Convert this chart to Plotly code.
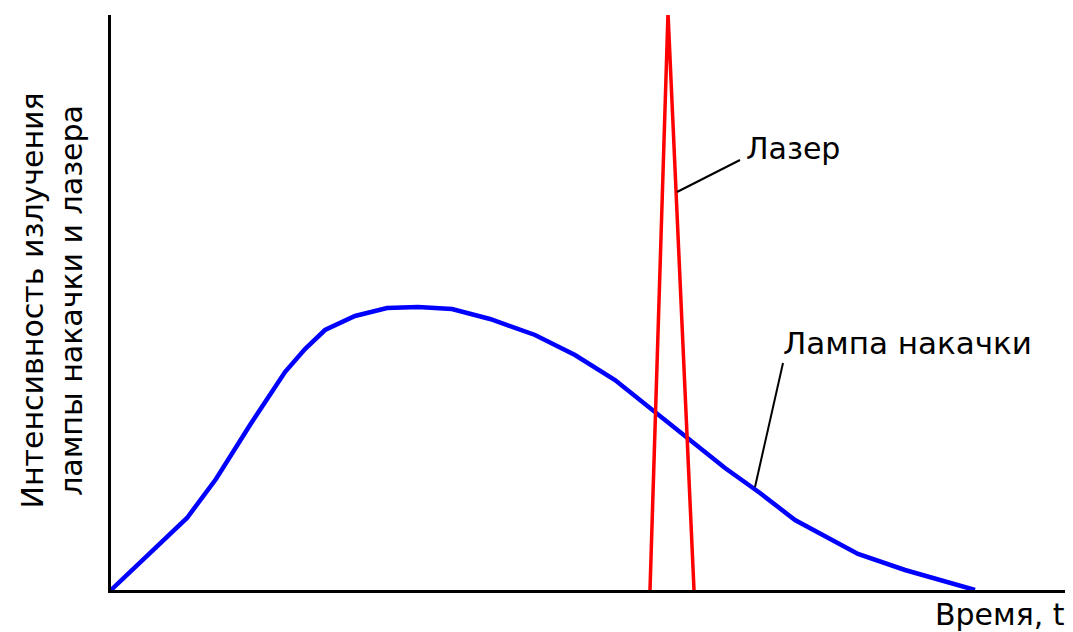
import plotly.graph_objects as go

# Time axis (arbitrary units) and intensities (arbitrary units)
lamp_t = [0, 76, 105, 139, 174, 194, 214, 244, 276, 307, 341, 379, 424, 464,
          504, 544, 579, 614, 649, 684, 747, 794, 864]
lamp_i = [0, 72, 111, 165, 218, 241, 260, 274, 282, 283, 281, 271, 255, 235,
          210, 178, 150, 122, 97, 70, 36, 20, 0]
laser_t = [539, 557, 583]
laser_i = [0, 577, 0]

FONT = "DejaVu Sans"

fig = go.Figure()
fig.add_trace(go.Scatter(x=lamp_t, y=lamp_i, mode="lines",
                         line=dict(color="#0000ff", width=4.5), cliponaxis=False))
fig.add_trace(go.Scatter(x=laser_t, y=laser_i, mode="lines",
                         line=dict(color="#ff0000", width=3.5), cliponaxis=False))

# pointer lines
fig.add_shape(type="line", x0=629, y0=430, x1=566, y1=398,
              line=dict(color="black", width=2))
fig.add_shape(type="line", x0=672, y0=227, x1=644, y1=103,
              line=dict(color="black", width=2))

fig.add_annotation(x=633, y=442, text="Лазер", showarrow=False,
                   xanchor="left", yanchor="middle",
                   font=dict(family=FONT, size=30, color="black"))
fig.add_annotation(x=670, y=247, text="Лампа накачки", showarrow=False,
                   xanchor="left", yanchor="middle",
                   font=dict(family=FONT, size=31, color="black"))
fig.add_annotation(x=1, xref="paper", y=0, yref="paper", yshift=-24,
                   xshift=-3,
                   text="Время, t", showarrow=False,
                   xanchor="right", yanchor="middle",
                   font=dict(family=FONT, size=30, color="black"))
fig.add_annotation(x=0, xref="paper", y=0.5, yref="paper", xshift=-60,
                   yshift=2,
                   text="Интенсивность излучения<br>лампы накачки и лазера",
                   textangle=-90, showarrow=False,
                   xanchor="center", yanchor="middle",
                   font=dict(family=FONT, size=30, color="black"))

fig.update_layout(
    width=1065, height=624,
    margin=dict(l=103, r=3, t=7, b=42),
    paper_bgcolor="white", plot_bgcolor="white",
    showlegend=False,
    xaxis=dict(range=[0, 959], showgrid=False, zeroline=False,
               showticklabels=False, ticks="", showline=True,
               linecolor="black", linewidth=3),
    yaxis=dict(range=[0, 575], showgrid=False, zeroline=False,
               showticklabels=False, ticks="", showline=True,
               linecolor="black", linewidth=3),
)

fig.write_html("out.html")
